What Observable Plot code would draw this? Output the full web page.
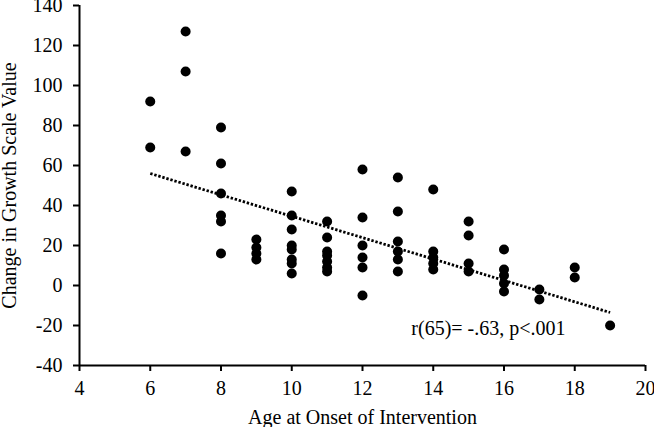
<!DOCTYPE html>
<html>
<head>
<meta charset="utf-8">
<script src="https://cdn.jsdelivr.net/npm/d3@7"></script>
<script src="https://cdn.jsdelivr.net/npm/@observablehq/plot@0.6"></script>
<style>
  html, body { margin: 0; padding: 0; background: #fff; }
  #chart svg { display: block; }
</style>
</head>
<body>
<div id="chart"></div>
<script>
// Observations: age at onset of intervention and change in growth scale value
const ages = [
  6, 6,
  7, 7, 7,
  8, 8, 8, 8, 8, 8,
  9, 9, 9, 9,
  10, 10, 10, 10, 10, 10, 10, 10,
  11, 11, 11, 11, 11, 11, 11,
  12, 12, 12, 12, 12, 12,
  13, 13, 13, 13, 13, 13,
  14, 14, 14, 14, 14,
  15, 15, 15, 15,
  16, 16, 16, 16, 16,
  17, 17,
  18, 18,
  19
];
const changes = [
  92, 69,
  127, 107, 67,
  79, 61, 46, 35, 32, 16,
  23, 19, 16, 13,
  47, 35, 28, 20, 18, 13, 11, 6,
  32, 24, 17, 15, 12, 9, 7,
  58, 34, 20, 14, 9, -5,
  54, 37, 22, 17, 13, 7,
  48, 17, 14, 11, 8,
  32, 25, 11, 7,
  18, 8, 5, 1, -3,
  -2, -7,
  9, 4,
  -20
];
// Fitted trend line end points
const trendX = [6, 19];
const trendY = [56, -13.5];

const xTicks = [4, 6, 8, 10, 12, 14, 16, 18, 20];
const yTicks = [-40, -20, 0, 20, 40, 60, 80, 100, 120, 140];
const xTitle = "Age at Onset of Intervention";
const yTitle = "Change in Growth Scale Value";
const statLabel = "r(65)= -.63, p<.001";

const points = ages.map((a, i) => ({age: a, change: changes[i]}));
const trend = trendX.map((x, i) => ({x, y: trendY[i]}));

const serif = "'Liberation Serif', 'Times New Roman', serif";

const chart = Plot.plot({
  width: 654,
  height: 427,
  marginLeft: 79,
  marginRight: 9,
  marginTop: 5,
  marginBottom: 62,
  style: {fontFamily: serif, fontSize: "20px", color: "#000", background: "#fff"},
  x: {domain: [4, 20], axis: null},
  y: {domain: [-40, 140], axis: null},
  marks: [
    Plot.axisX({ticks: xTicks, tickSize: 6, tickPadding: 9, strokeWidth: 2, tickFormat: d => String(d), label: null, fill: "#000", fontFamily: serif, fontSize: 20, fontVariant: "normal"}),
    Plot.axisY({ticks: yTicks, tickSize: 6, tickPadding: 11, strokeWidth: 2, tickFormat: d => String(d), label: null, fill: "#000", fontFamily: serif, fontSize: 20, fontVariant: "normal"}),
    Plot.ruleX([4], {stroke: "#000", strokeWidth: 2}),
    Plot.ruleY([-40], {stroke: "#000", strokeWidth: 2}),
    Plot.line(trend, {x: "x", y: "y", stroke: "#000", strokeWidth: 2.8, strokeDasharray: "2.4,1.8", strokeLinecap: "butt"}),
    Plot.dot(points, {x: "age", y: "change", r: 5, fill: "#000", stroke: "none"}),
    Plot.text([statLabel], {x: 13.38, y: -21.3, textAnchor: "start", lineAnchor: "middle", fill: "#000", fontFamily: serif, fontSize: 20}),
    Plot.text([xTitle], {frameAnchor: "bottom", textAnchor: "middle", lineAnchor: "middle", dy: 51.6, fill: "#000", fontFamily: serif, fontSize: 20}),
    Plot.text([yTitle], {frameAnchor: "left", textAnchor: "middle", lineAnchor: "middle", rotate: -90, dx: -69.6, fill: "#000", fontFamily: serif, fontSize: 20})
  ]
});
document.getElementById("chart").appendChild(chart);
</script>
</body>
</html>
